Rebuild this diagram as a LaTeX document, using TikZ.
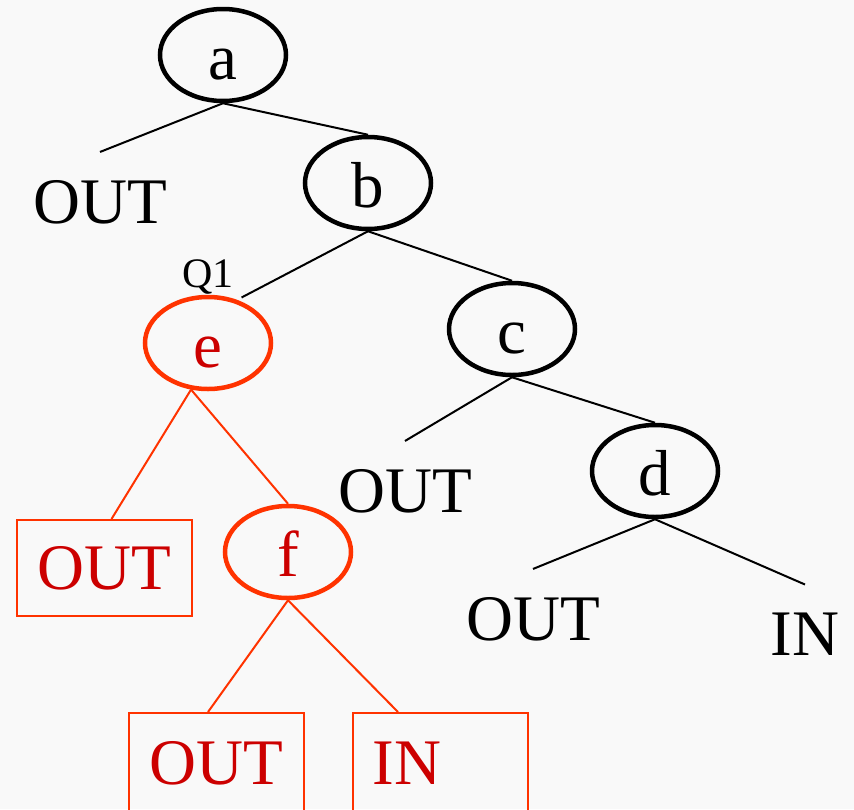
\documentclass[tikz,border=0pt]{standalone}
\usepackage{fontspec}
\setmainfont{Liberation Serif}
\usetikzlibrary{shapes.geometric}
\definecolor{treered}{RGB}{255,51,0}
\definecolor{leafred}{RGB}{204,0,0}
\definecolor{paper}{RGB}{249,249,249}

\begin{document}
\begin{tikzpicture}
[ x=1pt, y=-1pt,
every node/.style = {font=\fontsize{65}{70}\selectfont}]
 \tikzstyle{cond}=[ellipse, draw, line width=4.5pt, minimum width=126pt,
 	minimum height=92pt, inner sep=0pt, text height=48pt, text depth=0pt]
 \tikzstyle{hotcond}=[cond, draw=treered, text=leafred]
 \tikzstyle{result}=[inner xsep=0pt, inner ysep=28pt]
 \tikzstyle{hotresult}=[rectangle, draw=treered, line width=2pt, text=leafred,
 	inner xsep=20pt, text width=135pt, minimum height=96pt]
 \tikzstyle{lowresult}=[hotresult, anchor=north, text height=50pt, text depth=20pt,
 	minimum height=112pt]
 \tikzstyle{branch}=[line width=2pt]
 \tikzstyle{hotbranch}=[branch, treered]

 \fill[paper] (0,0) rectangle (854,809);
 \useasboundingbox (0,0) rectangle (854,809);

 % decision nodes
 \node[cond] (a) at (223,55) {a};
 \node[cond] (b) at (368,183) {b};
 \node[cond] (c) at (512,329) {c};
 \node[cond] (d) at (655,471) {d};
 \node[hotcond, label={[font=\fontsize{42}{44}\selectfont, inner sep=0pt]above:Q1}]
 	(e) at (208,343) {e};
 \node[hotcond] (f) at (288,552) {f};

 % leaves
 \node[result] (outA) at (100,202) {OUT};
 \node[result] (outC) at (405,491) {OUT};
 \node[result] (outD) at (533,619) {OUT};
 \node[result] (inD) at (805,634) {IN};
 \node[hotresult, align=center] (outE) at (104.5,568) {OUT};
 \node[lowresult, align=center] (outF) at (216,712) {OUT};
 \node[lowresult, align=left] (inF) at (440,712) {IN};

 % branches
 \draw[branch] (a.south) -- (outA.north);
 \draw[branch] (a.south) -- (b.north);
 \draw[branch, shorten >=5pt] (b.south) -- (e.56);
 \draw[branch] (b.south) -- (c.north);
 \draw[branch] (c.south) -- (outC.north);
 \draw[branch] (c.south) -- (d.north);
 \draw[branch] (d.south) -- (outD.north);
 \draw[branch] (d.south) -- (inD.north);
 \draw[hotbranch] (e.250) -- ([xshift=7pt]outE.north);
 \draw[hotbranch] (e.250) -- (f.north);
 \draw[hotbranch] (f.south) -- ([xshift=-8pt]outF.north);
 \draw[hotbranch] (f.south) -- ([xshift=-42pt]inF.north);
\end{tikzpicture}
\end{document}
